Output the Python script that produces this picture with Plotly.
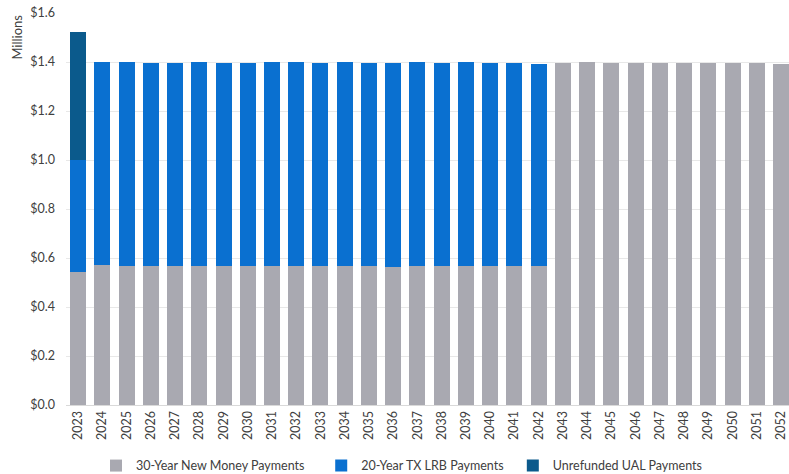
import plotly.graph_objects as go

years = [str(y) for y in range(2023, 2053)]

new_money = [0.543, 0.570, 0.568, 0.567, 0.566, 0.568, 0.567, 0.566, 0.568, 0.567,
             0.566, 0.568, 0.566, 0.565, 0.567, 0.566, 0.568, 0.566, 0.567, 0.566,
             1.397, 1.398, 1.397, 1.395, 1.394, 1.396, 1.395, 1.396, 1.394, 1.393]
tx_lrb = [0.457, 0.830, 0.830, 0.828, 0.829, 0.830, 0.829, 0.829, 0.830, 0.831,
          0.830, 0.830, 0.830, 0.830, 0.831, 0.829, 0.831, 0.829, 0.830, 0.827,
          0, 0, 0, 0, 0, 0, 0, 0, 0, 0]
ual = [0.522] + [0] * 29

y_ticks = [0.0, 0.2, 0.4, 0.6, 0.8, 1.0, 1.2, 1.4, 1.6]
y_labels = ["$%.1f" % v for v in y_ticks]

font_family = "Lato, 'Open Sans', sans-serif"
txt = "#404040"

fig = go.Figure()
fig.add_bar(x=years, y=new_money, name="30-Year New Money Payments",
            marker=dict(color="#A9A9B1", line=dict(width=0)), legend="legend")
fig.add_bar(x=years, y=tx_lrb, name="20-Year TX LRB Payments",
            marker=dict(color="#0A70D0", line=dict(width=0)), legend="legend2")
fig.add_bar(x=years, y=ual, name="Unrefunded UAL Payments",
            marker=dict(color="#0B5A8C", line=dict(width=0)), legend="legend3")

leg_common = dict(orientation="h", yref="container", y=0.017, yanchor="middle",
                  xanchor="left", font=dict(size=12.5, color=txt), itemwidth=30,
                  bgcolor="rgba(0,0,0,0)")

fig.update_layout(
    barmode="stack",
    bargap=0.34,
    width=789, height=474,
    margin=dict(l=66, r=0, t=13, b=69),
    paper_bgcolor="white", plot_bgcolor="white",
    font=dict(family=font_family, size=12, color=txt),
    legend=dict(x=0.0415, **leg_common),
    legend2=dict(x=0.353, **leg_common),
    legend3=dict(x=0.618, **leg_common),
    showlegend=True,
)
fig.update_xaxes(type="category", tickangle=-90, range=[-0.5, 29.33], automargin=False,
                 showline=True, linecolor="#D9D9D9", linewidth=1,
                 ticks="", tickfont=dict(size=12.5, color=txt), showgrid=False)
fig.update_yaxes(range=[0, 1.6], tickvals=y_ticks, ticktext=y_labels, automargin=False,
                 showgrid=True, gridcolor="#E8E8E8", gridwidth=1, zeroline=False,
                 tickfont=dict(size=12.5, color=txt), ticks="", ticklabelstandoff=10)
fig.add_annotation(text="Millions", xref="paper", yref="paper", x=-0.069, y=1.0,
                   xanchor="center", yanchor="top", textangle=-90, showarrow=False,
                   font=dict(size=13, color=txt))

fig.write_html("out.html")
